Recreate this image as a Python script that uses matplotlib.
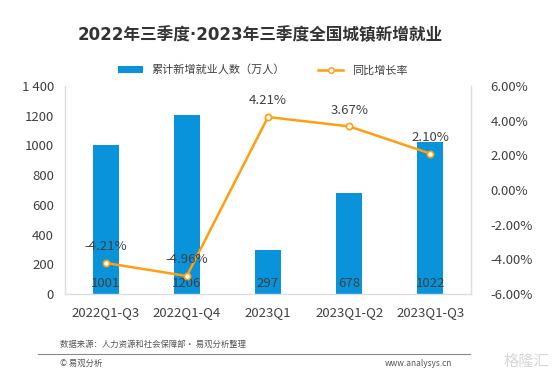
import matplotlib
matplotlib.use("Agg")
import matplotlib.pyplot as plt
from matplotlib.lines import Line2D
from matplotlib.patches import Patch

plt.rcParams['font.family'] = ['Noto Sans CJK SC', 'DejaVu Sans']

categories = ["2022Q1-Q3", "2022Q1-Q4", "2023Q1", "2023Q1-Q2", "2023Q1-Q3"]
new_jobs = [1001, 1206, 297, 678, 1022]
growth = [-4.21, -4.96, 4.21, 3.67, 2.10]
left_ticks = [0, 200, 400, 600, 800, 1000, 1200, 1400]
right_ticks = [-6, -4, -2, 0, 2, 4, 6]

bar_color = "#0893DA"
line_color = "#FF9F0F"
text_color = "#404040"

fig = plt.figure(figsize=(5.53, 3.77), dpi=100)
ax = fig.add_axes([65/553, 1-294/377, (471-65)/553, (294-86)/377])
x = list(range(len(categories)))
ax.bar(x, new_jobs, width=0.32, color=bar_color, zorder=2)
ax.set_xlim(-0.5, 4.5)
ax.set_ylim(0, 1400)
ax.set_yticks(left_ticks)
ax.set_yticklabels(["1 400" if v == 1400 else str(v) for v in left_ticks])
ax.set_xticks(x)
ax.set_xticklabels(categories)
ax.tick_params(axis='both', length=0, labelsize=9.5, colors=text_color)
ax.tick_params(axis='x', pad=9)
ax.tick_params(axis='y', pad=8)
ax.spines["top"].set_visible(False)
for s in ["left", "right", "bottom"]:
    ax.spines[s].set_color("#DDDDDD")
    ax.spines[s].set_linewidth(1.0)

for xi, v in zip(x, new_jobs):
    ax.text(xi, 30, str(v), ha='center', va='bottom', fontsize=9.5, color=text_color, zorder=5)

ax2 = ax.twinx()
ax2.plot(x, growth, color=line_color, lw=1.8, marker='o', ms=4.5,
         markerfacecolor='white', markeredgecolor=line_color, mew=1.2, zorder=4)
ax2.set_ylim(-6, 6)
ax2.set_yticks(right_ticks)
ax2.set_yticklabels([f"{v:.2f}%" for v in right_ticks])
ax2.tick_params(axis='y', length=0, labelsize=9.5, colors=text_color, pad=14)
for s in ["top", "left", "bottom"]:
    ax2.spines[s].set_visible(False)
ax2.spines["right"].set_color("#DDDDDD")

for xi, g in zip(x, growth):
    ax2.text(xi, g + 0.55, f"{g:.2f}%", ha='center', va='bottom', fontsize=9.5, color=text_color, zorder=5)

fig.text(0.47, 1-35/377, "2022年三季度·2023年三季度全国城镇新增就业", ha='center', va='center',
         fontsize=12, fontweight='bold', color="#333333", family=['DejaVu Sans', 'Noto Sans CJK SC'])

handles = [Patch(facecolor=bar_color, edgecolor='none'),
           Line2D([0], [0], color=line_color, lw=1.8, marker='o', ms=4,
                  markerfacecolor='white', markeredgecolor=line_color)]
fig.legend(handles, ["累计新增就业人数（万人）", "同比增长率"], loc='center',
           bbox_to_anchor=(0.475, 1-70/377), ncol=2, frameon=False, fontsize=8,
           handlelength=2.2, handleheight=0.6, columnspacing=3.0, labelcolor=text_color)

fig.text(60/553, 1-344/377, "数据来源：人力资源和社会保障部· 易观分析整理", ha='left', va='center',
         fontsize=6, color="#555555")
fig.add_artist(Line2D([38/553, 470/553], [1-354/377, 1-354/377], color="#888888", lw=0.8))
fig.text(60/553, 1-363/377, "© 易观分析", ha='left', va='center', fontsize=6, color="#555555")
fig.text(452/553, 1-363/377, "www.analysys.cn", ha='right', va='center', fontsize=6, color="#555555")
fig.text(549/553, 1-361/377, "格隆汇", ha='right', va='center', fontsize=11, color="#CCCCCC", alpha=0.8)

fig.savefig("out.png", dpi=100)
